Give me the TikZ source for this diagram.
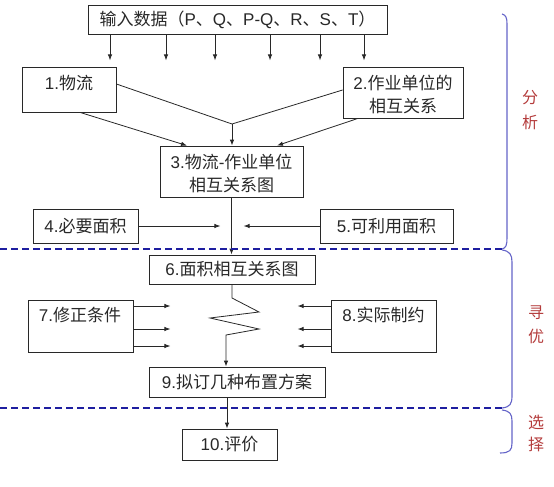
\documentclass[tikz,border=0pt]{standalone}
\usepackage{fontspec}
\setmainfont{Noto Sans CJK SC}
\newfontfamily\lat{Liberation Sans}
\usetikzlibrary{arrows.meta}
\definecolor{sepblue}{RGB}{30,30,160}
\definecolor{brcblue}{RGB}{100,100,200}
\definecolor{labred}{RGB}{180,60,60}
\definecolor{ink}{RGB}{40,40,40}
\begin{document}
\begin{tikzpicture}[x=1pt,y=-1pt,
  box/.style={draw=ink, line width=0.8pt, rectangle, inner sep=0pt},
  txt/.style={font=\fontsize{17}{23}\selectfont, text=ink, align=center, inner sep=0pt},
  arr/.style={draw=ink, line width=0.8pt, -{Latex[length=6pt,width=4.5pt]}},
  ln/.style={draw=ink, line width=0.8pt},
  sep/.style={draw=sepblue, line width=1.6pt, dash pattern=on 7pt off 4pt},
  brc/.style={draw=brcblue, line width=1.1pt},
  lab/.style={font=\fontsize{16}{18}\selectfont, text=labred, inner sep=0pt}]
\useasboundingbox (0,0) rectangle (554,487);

% boxes
\node[box, minimum width=299pt, minimum height=29pt] (top) at (237.5,19.5) {};
\node[txt] (ttop) at (top.center) {输入数据（{\lat P}、{\lat Q}、{\lat P-Q}、{\lat R}、{\lat S}、{\lat T}）};
\node[box, minimum width=94pt, minimum height=45pt] (b1) at (69,89.5) {};
\node[txt] (t1) at (69,83) {{\lat 1.}物流};
\node[box, minimum width=120pt, minimum height=51pt] (b2) at (403,92.5) {};
\node[txt] (t2) at (403,94) {{\lat 2.}作业单位的\\相互关系};
\node[box, minimum width=143pt, minimum height=51pt] (b3) at (231.5,171.5) {};
\node[txt] (t3) at (231.5,173.5) {{\lat 3.}物流{\lat -}作业单位\\相互关系图};
\node[box, minimum width=105pt, minimum height=34pt] (b4) at (85.5,226) {};
\node[txt] (t4) at (b4.center) {{\lat 4.}必要面积};
\node[box, minimum width=133pt, minimum height=34pt] (b5) at (386.5,226) {};
\node[txt] (t5) at (b5.center) {{\lat 5.}可利用面积};
\node[box, minimum width=166pt, minimum height=29pt] (b6) at (232,269.5) {};
\node[txt] (t6) at (b6.center) {{\lat 6.}面积相互关系图};
\node[box, minimum width=105pt, minimum height=52pt] (b7) at (80.5,326) {};
\node[txt] (t7) at (80,315) {{\lat 7.}修正条件};
\node[box, minimum width=105pt, minimum height=52pt] (b8) at (383.5,326) {};
\node[txt] (t8) at (383.5,315) {{\lat 8.}实际制约};
\node[box, minimum width=176pt, minimum height=30pt] (b9) at (237,382) {};
\node[txt] (t9) at (b9.center) {{\lat 9.}拟订几种布置方案};
\node[box, minimum width=95pt, minimum height=31pt] (b10) at (229.5,444.5) {};
\node[txt] (t10) at (b10.center) {{\lat 10.}评价};

% input arrows
\foreach \dx [count=\i] in {-127.5,-71.5,-22.5,32.5,82.5,126.5}
  \draw[arr] ([xshift=\dx pt]top.south) -- ++(0,26) coordinate (a\i);

% 1,2 -> 3
\coordinate (J) at (232,124);
\draw[ln] ([yshift=5.5pt]b1.east) -- (J);
\draw[ln] ([yshift=2.5pt]b2.west) -- (J);
\draw[arr] (J) -- (J |- b3.north);
\draw[arr] ([xshift=11pt]b1.south) -- ([xshift=-44.5pt]b3.north);
\draw[arr] ([xshift=-45pt]b2.south) -- ([xshift=45.5pt]b3.north);

% 3 -> 6, 4, 5
\draw[arr] (b3.south) -- (b3.south |- b6.north);
\draw[arr] (b4.east) -- ++(82,0) coordinate (e4);
\draw[arr] (b5.west) -- ++(-76,0) coordinate (e5);

% 7, 8 arrows
\foreach \dy [count=\i] in {20,-3,-20}{
  \draw[arr] ([yshift=\dy pt]b7.east) -- ++(37,0) coordinate (e7\i);
  \draw[arr] ([yshift=\dy pt]b8.west) -- ++(-33,0) coordinate (e8\i);
}

% zigzag 6 -> 9
\draw[arr] (b6.south) -- (232,298) -- (259,312) -- (210,318) -- (259,329) -- (226,335) -- ([xshift=-11pt]b9.north);

% 9 -> 10
\draw[arr] ([xshift=-10pt]b9.south) -- ([xshift=-2.5pt]b10.north);

% separators
\draw[sep] (0,249) -- (503,249);
\draw[sep] (0,408) -- (503,408);

% braces
\draw[brc] (502,14) .. controls (506,15) and (507,18) .. (507,24) -- (507,238) .. controls (507,245) and (506,248) .. (502,249);
\draw[brc] (502,250) .. controls (510,251) and (512,255) .. (512,262) -- (512,396) .. controls (512,404) and (510,407) .. (502,408);
\draw[brc] (502,410) .. controls (510,411) and (512,414) .. (512,421) -- (512,443) .. controls (512,450) and (510,453) .. (500,453);

% side labels
\node[lab] (l1) at (530,98) {分};
\node[lab] (l2) at (530,122) {析};
\node[lab] (l3) at (536,313) {寻};
\node[lab] (l4) at (536,336) {优};
\node[lab] (l5) at (536,422) {选};
\node[lab] (l6) at (536,444) {择};
\end{tikzpicture}
\end{document}
